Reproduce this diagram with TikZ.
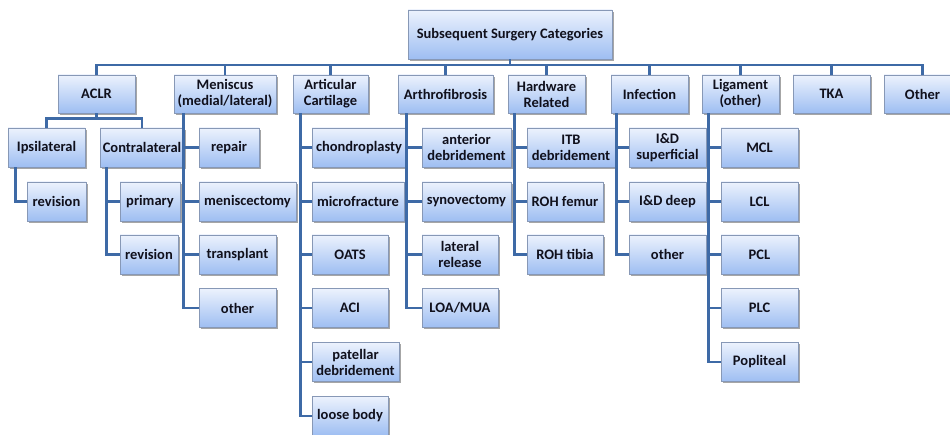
\documentclass[tikz,border=0pt]{standalone}
\usepackage{fontspec}
\setmainfont{Carlito}[BoldFont={Carlito Bold}]
\usetikzlibrary{shadows}
\definecolor{lnc}{RGB}{62,106,166}
\definecolor{bxtop}{RGB}{236,242,253}
\definecolor{bxbot}{RGB}{158,190,242}
\definecolor{bxdraw}{RGB}{135,152,182}
\definecolor{txt}{RGB}{16,16,28}
\tikzset{
  bx/.style={draw=bxdraw, line width=0.8pt, top color=bxtop, bottom color=bxbot,
    drop shadow={shadow xshift=1.6pt, shadow yshift=-1.8pt, opacity=0.35, fill=black},
    font=\bfseries\fontsize{14.5}{16}\selectfont, text=txt, align=center,
    inner sep=1pt, minimum height=39pt, anchor=center},
  ln/.style={draw=lnc, line width=2.3pt, line cap=butt, line join=miter},
}
\begin{document}
\begin{tikzpicture}[x=1pt,y=-1pt]
\useasboundingbox (0,0) rectangle (950,435);
% root
\node[bx, minimum width=204pt, minimum height=49pt] (root) at (510,34.5) {Subsequent Surgery Categories};
% top level
\node[bx, minimum width=77pt, minimum height=38pt] (aclr) at (96.5,94) {ACLR};
\node[bx, minimum width=102pt, minimum height=38pt] (men) at (225,94) {Meniscus\\(medial/lateral)};
\node[bx, minimum width=75pt, minimum height=38pt] (art) at (330.5,94) {Articular\\Cartilage};
\node[bx, minimum width=95pt, minimum height=38pt] (arth) at (445.5,94) {Arthrofibrosis};
\node[bx, minimum width=77pt, minimum height=38pt] (hw) at (546.5,94) {Hardware\\Related};
\node[bx, minimum width=77pt, minimum height=38pt] (inf) at (649.5,94) {Infection};
\node[bx, minimum width=77pt, minimum height=38pt] (lig) at (740.5,94) {Ligament\\(other)};
\node[bx, minimum width=77pt, minimum height=38pt] (tka) at (831.5,94) {TKA};
\node[bx, minimum width=77pt, minimum height=38pt] (oth) at (922.5,94) {Other};
% ACLR subtree
\node[bx, minimum width=77pt] (ipsi) at (46.5,147.5) {Ipsilateral};
\node[bx, minimum width=84pt] (contra) at (142,147.5) {Contralateral};
\node[bx, minimum width=59pt] (rev1) at (56.5,201.5) {revision};
\node[bx, minimum width=60pt] (prim) at (150,201.5) {primary};
\node[bx, minimum width=58pt] (rev2) at (149,254.5) {revision};
% Meniscus
\node[bx, minimum width=60pt] (repair) at (229,147.5) {repair};
\node[bx, minimum width=97pt] (menisc) at (247.5,201.5) {meniscectomy};
\node[bx, minimum width=77pt] (transp) at (237.5,254.5) {transplant};
\node[bx, minimum width=77pt] (mother) at (237.5,308) {other};
% Articular cartilage
\node[bx, minimum width=94pt] (chondro) at (359,147.5) {chondroplasty};
\node[bx, minimum width=92pt] (micro) at (358,201.5) {microfracture};
\node[bx, minimum width=76pt] (oats) at (350,254.5) {OATS};
\node[bx, minimum width=76pt] (aci) at (350,308) {ACI};
\node[bx, minimum width=87pt] (patel) at (355.5,362) {patellar\\debridement};
\node[bx, minimum width=76pt] (loose) at (350,416) {loose body};
% Arthrofibrosis
\node[bx, minimum width=89pt] (antdeb) at (466.5,147.5) {anterior\\debridement};
\node[bx, minimum width=89pt] (syno) at (466.5,201.5) {synovectomy};
\node[bx, minimum width=76pt] (latrel) at (460,254.5) {lateral\\release};
\node[bx, minimum width=76pt] (loa) at (460,308) {LOA/MUA};
% Hardware
\node[bx, minimum width=88pt] (itb) at (571,147.5) {ITB\\debridement};
\node[bx, minimum width=76pt] (rohf) at (565,201.5) {ROH femur};
\node[bx, minimum width=76pt] (roht) at (565,254.5) {ROH tibia};
% Infection
\node[bx, minimum width=77pt] (ids) at (667.5,147.5) {I\&D\\superficial};
\node[bx, minimum width=77pt] (idd) at (667.5,201.5) {I\&D deep};
\node[bx, minimum width=77pt] (ioth) at (667.5,254.5) {other};
% Ligament
\node[bx, minimum width=77pt] (mcl) at (759.5,147.5) {MCL};
\node[bx, minimum width=77pt] (lcl) at (759.5,201.5) {LCL};
\node[bx, minimum width=77pt] (pcl) at (759.5,254.5) {PCL};
\node[bx, minimum width=77pt] (plc) at (759.5,308) {PLC};
\node[bx, minimum width=77pt] (pop) at (759.5,362) {Popliteal};

\coordinate (bus) at (0,65);
\coordinate (abus) at (0,118.5);
\foreach \n in {aclr,men,art,arth,hw,inf,lig,tka,oth}
  \draw[ln] (root.south) -- (root.south |- bus) -| (\n.north);
\foreach \n in {ipsi,contra}
  \draw[ln] (aclr.south) -- (aclr.south |- abus) -| (\n.north);
\draw[ln] ([xshift=8pt]ipsi.south west) |- (rev1.west);
\foreach \n in {prim,rev2}
  \draw[ln] ([xshift=7pt]contra.south west) |- (\n.west);
\foreach \n in {repair,menisc,transp,mother}
  \draw[ln] ([xshift=10pt]men.south west) |- (\n.west);
\foreach \n in {chondro,micro,oats,aci,patel,loose}
  \draw[ln] ([xshift=8pt]art.south west) |- (\n.west);
\foreach \n in {antdeb,syno,latrel,loa}
  \draw[ln] ([xshift=9pt]arth.south west) |- (\n.west);
\foreach \n in {itb,rohf,roht}
  \draw[ln] ([xshift=7pt]hw.south west) |- (\n.west);
\foreach \n in {ids,idd,ioth}
  \draw[ln] ([xshift=6pt]inf.south west) |- (\n.west);
\foreach \n in {mcl,lcl,pcl,plc,pop}
  \draw[ln] ([xshift=7pt]lig.south west) |- (\n.west);
\end{tikzpicture}
\end{document}
